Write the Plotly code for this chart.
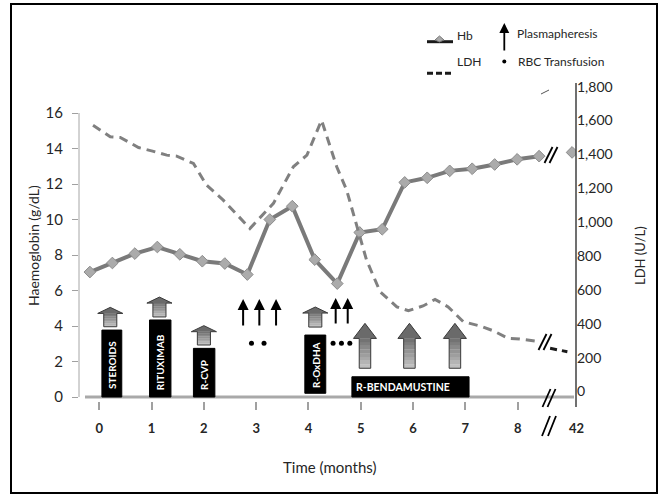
import plotly.graph_objects as go

# ---------------- data ----------------
hb_t = [-0.18, 0.25, 0.68, 1.11, 1.54, 1.97, 2.40, 2.83, 3.26, 3.69, 4.12,
        4.55, 4.98, 5.41, 5.84, 6.27, 6.70, 7.13, 7.56, 7.99, 8.41]
hb = [7.04, 7.55, 8.08, 8.45, 8.04, 7.65, 7.52, 6.90, 10.0, 10.75, 7.74,
      6.39, 9.27, 9.45, 12.09, 12.35, 12.74, 12.86, 13.10, 13.39, 13.57]
hb_42_t = [9.04]
hb_42 = [13.78]

ldh_t = [-0.12, 0.21, 0.40, 0.75, 1.00, 1.29, 1.48, 1.80, 2.05, 2.37, 2.88,
         3.33, 3.71, 3.97, 4.25, 4.54, 4.73, 4.89, 5.11, 5.37, 5.69, 5.91,
         6.19, 6.42, 6.67, 6.96, 7.28, 7.53, 7.82, 8.04, 8.33]
ldh = [1573, 1504, 1500, 1441, 1421, 1396, 1390, 1347, 1219, 1130, 963,
       1111, 1327, 1396, 1602, 1327, 1189, 1012, 776, 589, 500, 477,
       505, 544, 500, 412, 387, 359, 314, 310, 298]
ldh_42_t = [8.62, 8.95]
ldh_42 = [255, 235]

month_ticks = [0, 1, 2, 3, 4, 5, 6, 7, 8]
month_labels = ["0", "1", "2", "3", "4", "5", "6", "7", "8"]
break_label = "42"
break_pos = 9.115
hb_ticks = [0, 2, 4, 6, 8, 10, 12, 14, 16]
ldh_ticks = [0, 200, 400, 600, 800, 1000, 1200, 1400, 1600, 1800]

therapy_names = ["STEROIDS", "RITUXIMAB", "R-CVP", "R-OxDHA", "R-BENDAMUSTINE"]
therapy_start = [0.05, 0.96, 1.80, 3.93, 4.83]
therapy_end = [0.43, 1.37, 2.21, 4.33, 7.07]
therapy_base = [0.0, 0.0, 0.0, 0.21, 0.0]
therapy_top = [3.77, 4.34, 2.74, 3.49, 1.14]

arrow_x = [0.21, 1.15, 2.00, 4.13, 5.08, 5.93, 6.80]
arrow_base = [3.96, 4.51, 2.93, 3.94, 1.62, 1.62, 1.62]
arrow_top = [5.05, 5.63, 4.02, 5.07, 4.15, 4.15, 4.15]
arrow_big = [False, False, False, False, True, True, True]

plasma_x = [2.75, 3.06, 3.38, 4.52, 4.75]
plasma_base = [3.94, 3.94, 3.94, 4.06, 4.06]
plasma_top = [5.52, 5.52, 5.52, 5.58, 5.58]

rbc_x = [2.91, 3.15, 4.47, 4.63, 4.79]
rbc_y = [3.03, 3.03, 3.03, 3.03, 3.03]

# ---------------- layout helpers ----------------
W, H = 661, 498
PL, PR, PT, PB = 79, 576, 80, 401
FONT = "Lato, 'Open Sans', sans-serif"
TXT = "#262626"


def fx(x):
    return (x - PL) / (PR - PL)


def fy(y):
    return (PB - y) / (PB - PT)


fig = go.Figure()

# Hb
fig.add_trace(go.Scatter(x=hb_t, y=hb, mode="lines+markers",
                         line=dict(color="#7a7a7a", width=4),
                         marker=dict(symbol="diamond", size=9, color="#ababab",
                                     line=dict(color="#8c8c8c", width=1)),
                         showlegend=False, yaxis="y"))
fig.add_trace(go.Scatter(x=hb_42_t, y=hb_42, mode="markers",
                         marker=dict(symbol="diamond", size=9, color="#ababab",
                                     line=dict(color="#8c8c8c", width=1)),
                         showlegend=False, yaxis="y"))
# LDH
fig.add_trace(go.Scatter(x=ldh_t, y=ldh, mode="lines",
                         line=dict(color="#808080", width=3, dash="9px,6px"),
                         showlegend=False, yaxis="y2"))
fig.add_trace(go.Scatter(x=ldh_42_t, y=ldh_42, mode="lines",
                         line=dict(color="#1a1a1a", width=3, dash="7px,5px"),
                         showlegend=False, yaxis="y2"))
# RBC transfusions
fig.add_trace(go.Scatter(x=rbc_x, y=rbc_y, mode="markers",
                         marker=dict(color="black", size=5),
                         showlegend=False, yaxis="y"))

shapes = []
annotations = []


def label(text, x, y, size, angle=0, xanchor="center", bold=False, color=TXT,
          xref="paper", yref="paper"):
    if bold:
        text = "<b>" + text + "</b>"
    annotations.append(dict(x=x, y=y, xref=xref, yref=yref, text=text,
                            textangle=angle, showarrow=False,
                            xanchor=xanchor, yanchor="middle",
                            font=dict(family=FONT, size=size, color=color)))


# outer frame
shapes.append(dict(type="rect", xref="paper", yref="paper",
                   x0=fx(11), x1=fx(657), y0=fy(493), y1=fy(4),
                   line=dict(color="black", width=2), layer="below"))
# left axis line
shapes.append(dict(type="line", xref="paper", yref="y", x0=0, x1=0, y0=0, y1=16,
                   line=dict(color="#a6a6a6", width=1)))
# right axis line
shapes.append(dict(type="line", xref="paper", yref="paper", x0=1, x1=1,
                   y0=fy(407), y1=fy(83), line=dict(color="#404040", width=1.5)))
# gray x axis line
shapes.append(dict(type="line", xref="paper", yref="y", x0=fx(85), x1=fx(574),
                   y0=0, y1=0, line=dict(color="#a9a9a9", width=3)))

# therapy bars
for i, name in enumerate(therapy_names):
    shapes.append(dict(type="rect", xref="x", yref="y",
                       x0=therapy_start[i], x1=therapy_end[i],
                       y0=therapy_base[i], y1=therapy_top[i],
                       fillcolor="black", line=dict(color="black", width=1)))
    xc = (therapy_start[i] + therapy_end[i]) / 2
    if therapy_end[i] - therapy_start[i] > 1:
        label(name, 5.80, (therapy_base[i] + therapy_top[i]) / 2, 10.5,
              bold=True, color="white", xref="x", yref="y")
    else:
        h = len(name) * 0.36
        yc = therapy_base[i] + 0.35 + h / 2
        label(name, xc, yc, 10, angle=-90, bold=True, color="white",
              xref="x", yref="y")


def hexmix(c1, c2, t):
    a = [int(c1[k:k + 2], 16) for k in (1, 3, 5)]
    b = [int(c2[k:k + 2], 16) for k in (1, 3, 5)]
    return "#" + "".join("%02x" % round(a[j] + (b[j] - a[j]) * t) for j in range(3))


# block arrows
for i, xc in enumerate(arrow_x):
    if arrow_big[i]:
        w, sw, hh = 0.44, 0.22, 0.85
    else:
        w, sw, hh = 0.48, 0.25, 0.34
    b, t = arrow_base[i], arrow_top[i]
    hb_ = t - hh
    n = 8
    for k in range(n):
        y0 = b + (hb_ - b) * k / n
        y1 = b + (hb_ - b) * (k + 1) / n
        col = hexmix("#c4c4c4", "#6e6e6e", (k + 0.5) / n)
        shapes.append(dict(type="rect", xref="x", yref="y", x0=xc - sw / 2,
                           x1=xc + sw / 2, y0=y0, y1=y1 + 0.01, fillcolor=col,
                           line=dict(width=0)))
    shapes.append(dict(type="path", xref="x", yref="y",
                       path="M %f,%f L %f,%f L %f,%f Z" % (xc - w / 2, hb_, xc, t, xc + w / 2, hb_),
                       fillcolor="#6a6a6a", line=dict(width=0)))
    path = ("M %f,%f L %f,%f L %f,%f L %f,%f L %f,%f L %f,%f L %f,%f Z" %
            (xc - sw / 2, b, xc - sw / 2, hb_, xc - w / 2, hb_, xc, t,
             xc + w / 2, hb_, xc + sw / 2, hb_, xc + sw / 2, b))
    shapes.append(dict(type="path", xref="x", yref="y", path=path,
                       line=dict(color="#3a3a3a", width=1)))

# plasmapheresis arrows
for i, xc in enumerate(plasma_x):
    annotations.append(dict(x=xc, y=plasma_top[i], ax=xc, ay=plasma_base[i],
                            xref="x", yref="y", axref="x", ayref="y", text="",
                            showarrow=True, arrowhead=2, arrowsize=1.1,
                            arrowwidth=2, arrowcolor="black", standoff=0))


# break marks
def slash_pair(cx, cy, hw, hh, gap, color="black", width=1.8):
    out = []
    for d in (-gap / 2, gap / 2):
        out.append(dict(type="line", xref="paper", yref="paper",
                        x0=fx(cx + d - hw), y0=fy(cy + hh),
                        x1=fx(cx + d + hw), y1=fy(cy - hh),
                        line=dict(color=color, width=width)))
    return out


shapes += slash_pair(551, 155, 4, 8, 5)
shapes += slash_pair(545, 342, 4, 8, 5)
shapes += slash_pair(549, 398, 4, 9, 5)
shapes += slash_pair(549, 426, 4, 10, 6)
shapes.append(dict(type="line", xref="paper", yref="paper", x0=fx(541), y0=fy(94),
                   x1=fx(549), y1=fy(90), line=dict(color="#555555", width=1)))

# axis titles / labels
label("Haemoglobin (g/dL)", fx(33), fy(246), 14, angle=-90)
label("LDH (U/L)", fx(640), fy(256), 13, angle=-90)
label("Time (months)", fx(329), fy(467), 15)
label(break_label, break_pos, fy(428), 13, bold=True, xref="x")

# legend
shapes.append(dict(type="line", xref="paper", yref="paper", x0=fx(427), x1=fx(453),
                   y0=fy(41.7), y1=fy(41.7), line=dict(color="#1a1a1a", width=3)))
shapes.append(dict(type="path", xref="paper", yref="paper",
                   path="M %f,%f L %f,%f L %f,%f L %f,%f Z" % (
                       fx(435), fy(40), fx(439.5), fy(36), fx(444), fy(40), fx(439.5), fy(42)),
                   fillcolor="#a8a8a8", line=dict(color="#777777", width=1)))
shapes.append(dict(type="line", xref="paper", yref="paper", x0=fx(427), x1=fx(453),
                   y0=fy(73.3), y1=fy(73.3),
                   line=dict(color="#1a1a1a", width=3, dash="6px,3px")))
shapes.append(dict(type="circle", xref="paper", yref="paper", x0=fx(502.3), x1=fx(506.3),
                   y0=fy(63.5), y1=fy(59.5), fillcolor="black", line=dict(width=0)))
annotations.append(dict(x=fx(504.3), y=fy(23), xref="paper", yref="paper", text="",
                        ax=0, ay=29, showarrow=True, arrowhead=2, arrowsize=1.1,
                        arrowwidth=1.8, arrowcolor="black", standoff=0))
for txt, x, y in [("Hb", 455, 35), ("LDH", 455, 61),
                  ("Plasmapheresis", 515, 34), ("RBC Transfusion", 516, 61)]:
    label(txt, fx(x), fy(y), 12, xanchor="left")

fig.update_layout(
    width=W, height=H,
    margin=dict(l=PL, r=W - PR, t=PT, b=H - PB),
    paper_bgcolor="white", plot_bgcolor="white",
    showlegend=False,
    font=dict(family=FONT, color=TXT),
    xaxis=dict(range=[-0.388, 9.115], tickvals=month_ticks,
               ticktext=["<b>" + s + "</b>" for s in month_labels],
               ticks="outside", ticklen=8, tickcolor="#a0a0a0", tickwidth=1.5,
               showline=False, showgrid=False, zeroline=False,
               tickfont=dict(family=FONT, size=13, color=TXT),
               ticklabelstandoff=7),
    yaxis=dict(range=[-0.225, 17.86], tickvals=hb_ticks, ticks="outside",
               ticklen=6, tickcolor="#a0a0a0", showline=False, showgrid=False,
               zeroline=False, tickfont=dict(family=FONT, size=15, color=TXT),
               ticklabelstandoff=6),
    yaxis2=dict(range=[-56.1, 1839.6], tickvals=ldh_ticks, tickformat=",",
                overlaying="y", side="right", ticks="", showline=False,
                showgrid=False, zeroline=False,
                tickfont=dict(family=FONT, size=14, color=TXT)),
    shapes=shapes,
    annotations=annotations,
)

fig.write_html("out.html", config={"displayModeBar": False},
               post_script="document.body.style.margin='0';document.body.style.padding='0';")
